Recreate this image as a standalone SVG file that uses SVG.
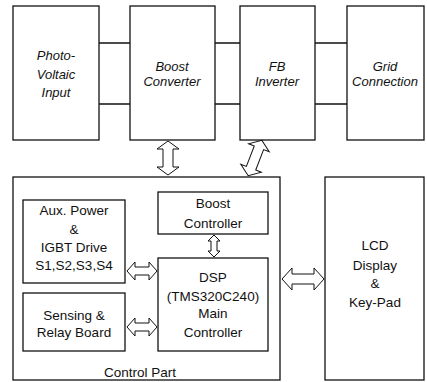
<svg xmlns="http://www.w3.org/2000/svg" width="427" height="382" viewBox="0 0 427 382">
<style>
.box{fill:none;stroke:#111;stroke-width:1.3}
.ln{stroke:#111;stroke-width:1.3;fill:none}
.arr{fill:#fff;stroke:#111;stroke-width:1}
.t{font-family:"Liberation Sans",Arial,sans-serif;font-size:13.5px;fill:#111;text-anchor:middle}
.ti{font-family:"Liberation Sans",Arial,sans-serif;font-size:13px;font-style:italic;fill:#111;text-anchor:middle}
</style>
<rect width="427" height="382" fill="#fff"/>
<g id="connectors">
<path class="ln" d="M99,43H130M99,104H130M215,43H240M215,104H240M315,43H347M315,104H347"/>
<polygon class="arr" points="168,141 179,149 173,149 173,167 179,167 168,175 157,167 163,167 163,149 157,149"/>
<polygon class="arr" transform="translate(255,158) rotate(21)" points="0,-19 11,-11 5,-11 5,11 11,11 0,19 -11,11 -5,11 -5,-11 -11,-11"/>
<polygon class="arr" points="214,235 220,241 217,241 217,251 220,251 214,257 208,251 211,251 211,241 208,241"/>
<polygon class="arr" points="127,271 135,262 135,267 149,267 149,262 157,271 149,280 149,275 135,275 135,280"/>
<polygon class="arr" points="127,327 135,318 135,323 149,323 149,318 157,327 149,336 149,331 135,331 135,336"/>
<polygon class="arr" points="282,279 292,268 292,274 314,274 314,268 324,279 314,290 314,284 292,284 292,290"/>
</g>
<g id="pv">
<rect class="box" x="13" y="6" width="86" height="134"/>
<text class="ti" x="56" y="60">Photo-</text>
<text class="ti" x="56" y="79">Voltaic</text>
<text class="ti" x="56" y="97">Input</text>
</g>
<g id="boost">
<rect class="box" x="130" y="6" width="85" height="134"/>
<text class="ti" x="172" y="71">Boost</text>
<text class="ti" x="172" y="86">Converter</text>
</g>
<g id="fb">
<rect class="box" x="240" y="6" width="75" height="134"/>
<text class="ti" x="277" y="71">FB</text>
<text class="ti" x="277" y="86">Inverter</text>
</g>
<g id="grid">
<rect class="box" x="347" y="6" width="77" height="134"/>
<text class="ti" x="385" y="71">Grid</text>
<text class="ti" x="385" y="86">Connection</text>
</g>
<g id="control">
<rect class="box" x="13" y="177" width="267" height="203"/>
<text class="t" x="140" y="377">Control Part</text>
</g>
<g id="aux">
<rect class="box" x="23" y="200" width="102" height="83"/>
<text class="t" x="74" y="215">Aux. Power</text>
<text class="t" x="74" y="234">&amp;</text>
<text class="t" x="74" y="252">IGBT Drive</text>
<text class="t" x="74" y="270">S1,S2,S3,S4</text>
</g>
<g id="sensing">
<rect class="box" x="23" y="293" width="102" height="58"/>
<text class="t" x="74" y="320">Sensing &amp;</text>
<text class="t" x="74" y="337">Relay Board</text>
</g>
<g id="bctrl">
<rect class="box" x="158" y="192" width="110" height="42"/>
<text class="t" x="213" y="208">Boost</text>
<text class="t" x="213" y="228">Controller</text>
</g>
<g id="dsp">
<rect class="box" x="158" y="258" width="110" height="93"/>
<text class="t" x="213" y="282">DSP</text>
<text class="t" x="213" y="301">(TMS320C240)</text>
<text class="t" x="213" y="318">Main</text>
<text class="t" x="213" y="337">Controller</text>
</g>
<g id="lcd">
<rect class="box" x="325" y="177" width="99" height="203"/>
<text class="t" x="375" y="250">LCD</text>
<text class="t" x="375" y="270">Display</text>
<text class="t" x="375" y="288">&amp;</text>
<text class="t" x="375" y="307">Key-Pad</text>
</g>
</svg>
